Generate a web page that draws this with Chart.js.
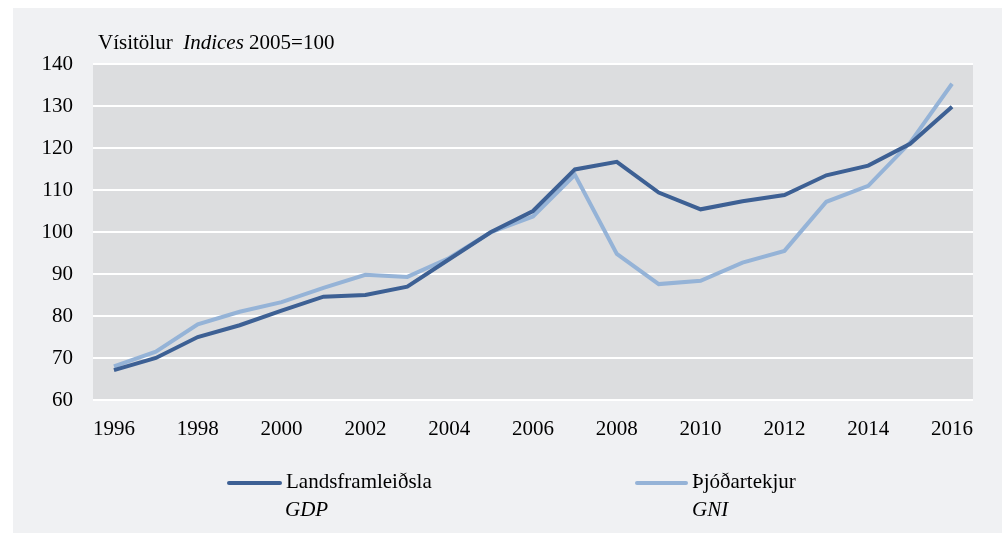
<!DOCTYPE html>
<html>
<head>
<meta charset="utf-8">
<script src="https://cdn.jsdelivr.net/npm/chart.js@4/dist/chart.umd.min.js"></script>
<style>
  body { margin: 0; background: #fff; font-family: "Liberation Serif", "Times New Roman", serif; }
  #wrap { position: relative; width: 1002px; height: 533px; }
  #panel { position: absolute; left: 13px; top: 8px; right: 0; bottom: 0; background: #f0f1f3; }
  #chart { position: absolute; left: 0; top: 0; }
  .txt { position: absolute; font-size: 21px; color: #000; white-space: pre; line-height: 1; }
  .swatch { position: absolute; height: 4px; border-radius: 2px; }
</style>
</head>
<body>
<div id="wrap">
  <div id="panel"></div>
  <canvas id="chart" width="1002" height="533"></canvas>
  <div class="txt" style="left:98px; top:32px;">Vísitölur  <i>Indices</i> 2005=100</div>
  <div class="swatch" style="left:227px; top:481px; width:55px; background:#3d6094;"></div>
  <div class="txt" style="left:286px; top:471px;">Landsframleiðsla</div>
  <div class="txt" style="left:285px; top:499px;"><i>GDP</i></div>
  <div class="swatch" style="left:635px; top:481px; width:53px; background:#95b3d7;"></div>
  <div class="txt" style="left:692px; top:471px;">Þjóðartekjur</div>
  <div class="txt" style="left:692px; top:499px;"><i>GNI</i></div>
</div>
<script>
// === Data ====================================================================
const years = ["1996", "1997", "1998", "1999", "2000", "2001", "2002", "2003", "2004", "2005",
  "2006", "2007", "2008", "2009", "2010", "2011", "2012", "2013", "2014", "2015", "2016"];
const gdp = [67.1, 70, 75, 77.8, 81.3, 84.6, 85, 87, 93.5, 100,
  105, 114.9, 116.7, 109.4, 105.4, 107.3, 108.8, 113.5, 115.8, 121, 129.8];
const gni = [68, 71.5, 78, 81, 83.3, 86.7, 89.8, 89.3, 93.8, 100,
  103.7, 113.6, 94.8, 87.6, 88.4, 92.7, 95.5, 107.2, 111, 121.3, 135.3];

// === Plot background =========================================================
const plotBg = {
  id: "plotBg",
  beforeDraw(chart) {
    const { ctx, chartArea: a } = chart;
    ctx.save();
    ctx.fillStyle = "#dcdddf";
    ctx.fillRect(a.left, a.top, a.right - a.left, a.bottom - a.top);
    ctx.restore();
  },
};

const font = { family: "'Liberation Serif', 'Times New Roman', serif", size: 21 };

new Chart(document.getElementById("chart"), {
  type: "line",
  data: {
    labels: years,
    datasets: [
      { label: "Landsframleiðsla", data: gdp, borderColor: "#3d6094", borderWidth: 4, pointRadius: 0, tension: 0 },
      { label: "Þjóðartekjur", data: gni, borderColor: "#95b3d7", borderWidth: 4, pointRadius: 0, tension: 0 },
    ],
  },
  options: {
    responsive: false,
    animation: false,
    layout: { padding: { left: 0, right: 29, top: 64, bottom: 93 } },
    plugins: { legend: { display: false }, tooltip: { enabled: false } },
    scales: {
      x: {
        offset: true,
        grid: { display: false },
        border: { display: false },
        afterFit(scale) { scale.height = 40; },
        ticks: {
          color: "#000",
          font,
          padding: 9,
          autoSkip: false,
          maxRotation: 0,
          callback(v, i) { return i % 2 === 0 ? years[i] : ""; },
        },
      },
      y: {
        min: 60,
        max: 140,
        grid: { color: "#ffffff", lineWidth: 2, drawTicks: false },
        border: { display: false },
        afterFit(scale) { scale.width = 93; },
        ticks: { stepSize: 10, color: "#000", font, padding: 20 },
      },
    },
  },
  plugins: [plotBg],
});
</script>
</body>
</html>
